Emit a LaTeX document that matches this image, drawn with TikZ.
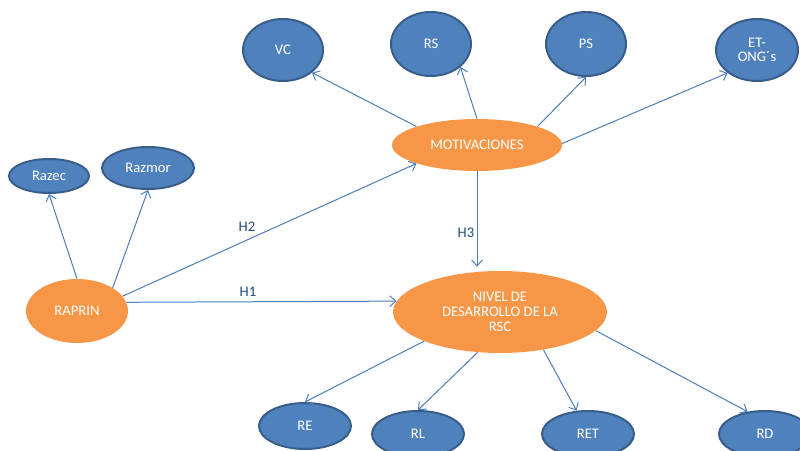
\documentclass[tikz,border=0pt]{standalone}
\usepackage{fontspec}
\setmainfont{Carlito}
\usetikzlibrary{shapes.geometric,arrows.meta}
\definecolor{nodeblue}{RGB}{79,129,189}
\definecolor{nodeedge}{RGB}{56,93,138}
\definecolor{nodeorange}{RGB}{247,150,70}
\definecolor{arrowblue}{RGB}{74,126,187}
\definecolor{labelblue}{RGB}{31,73,125}
\tikzset{
  bluenode/.style={ellipse, draw=nodeedge, line width=1.5pt, fill=nodeblue, text=white, inner sep=0pt, align=center, font=\fontsize{11}{11}\selectfont},
  orangenode/.style={ellipse, fill=nodeorange, text=white, inner sep=0pt, align=center, font=\fontsize{11}{11}\selectfont},
  link/.style={draw=arrowblue, line width=0.75pt, -{Straight Barb[length=4.5pt,width=8pt]}},
  hlabel/.style={text=labelblue, font=\fontsize{11}{12}\selectfont}
}
\begin{document}
\begin{tikzpicture}[x=0.75pt,y=-0.75pt]
\useasboundingbox (0,0) rectangle (800,450);
% top nodes
\node[bluenode, minimum width=60pt, minimum height=46.5pt] (vc) at (283,50) {VC};
\node[bluenode, minimum width=60pt, minimum height=48pt] (rs) at (431,44) {RS};
\node[bluenode, minimum width=60pt, minimum height=48pt] (ps) at (586,44) {PS};
\node[bluenode, minimum width=61.5pt, minimum height=46.5pt] (et) at (757,50) {ET-\\ONG´s};
% left nodes
\node[bluenode, minimum width=60pt, minimum height=25.5pt] (razec) at (49,176) {Razec};
\node[bluenode, minimum width=69pt, minimum height=31.5pt] (razmor) at (148,168) {Razmor};
\node[orangenode, minimum width=76.5pt, minimum height=48pt] (raprin) at (77,311) {RAPRIN};
% central nodes
\node[orangenode, minimum width=127.5pt, minimum height=39pt] (mot) at (477,145) {MOTIVACIONES};
\node[orangenode, minimum width=160.5pt, minimum height=61.5pt] (nivel) at (500,312) {NIVEL DE\\DESARROLLO DE LA\\RSC};
% bottom nodes
\node[bluenode, minimum width=69pt, minimum height=34.5pt] (re) at (305,426) {RE};
\node[bluenode, minimum width=69pt, minimum height=34.5pt] (rl) at (418,434) {RL};
\node[bluenode, minimum width=69pt, minimum height=34.5pt] (ret) at (588,434) {RET};
\node[bluenode, minimum width=69pt, minimum height=34.5pt] (rd) at (765,434) {RD};
% connectors from MOTIVACIONES
\draw[link] (mot.163) -- (vc.-38);
\draw[link] (mot.90) -- (rs.-38);
\draw[link] (mot.17) -- (ps.south);
\draw[link] (mot.1) -- (et.218);
% connectors from RAPRIN
\draw[link] (raprin.north) -- (razec.south);
\draw[link] (raprin.33) -- (razmor.south);
\draw[link] (raprin.18) -- (mot.197);
\draw[link] (raprin.10.6) -- (nivel.174.7);
\draw[link] (mot.south) -- ([yshift=3pt]mot.south |- nivel.north);
% connectors from NIVEL
\draw[link] (nivel.201.5) -- (re.north);
\draw[link] (nivel.241.3) -- (rl.north);
\draw[link] (nivel.-41.3) -- (ret.116);
\draw[link] (nivel.-11) -- (rd.128);
% labels
\node[hlabel] (h2) at (247,227) {H2};
\node[hlabel] (h1) at (248,292) {H1};
\node[hlabel] (h3) at (466,233) {H3};
\end{tikzpicture}
\end{document}
